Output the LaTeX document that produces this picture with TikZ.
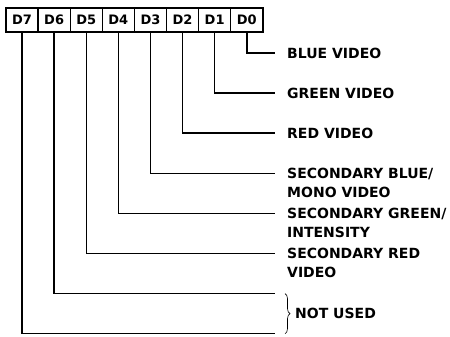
\documentclass[tikz,border=0pt]{standalone}
\usepackage{fontspec}
\setmainfont{DejaVu Sans}
\usetikzlibrary{
    calc,
    decorations.pathreplacing,
}

\begin{document}
\begin{tikzpicture}[
        x=1pt, y=1pt,
        bit/.style={draw, line width=1.4pt, minimum width=32.1pt, minimum height=24pt, inner sep=0pt, font=\fontsize{13}{15}\selectfont\bfseries},
        wire/.style={line width=1.5pt},
        signal/.style={anchor=north west, inner sep=0pt, align=left, font=\fontsize{14}{19}\selectfont\bfseries},
    ]
        \useasboundingbox (0,0) rectangle (450,337);

        % Register bits
        \foreach \k in {7,...,0} {
            \node[bit] (bit\k) at ({6+32.1*(7.5-\k)}, 317) {D\k};
            \coordinate (end\k) at (275, {284-40.1*\k});
        }

        % Used bits
        \foreach \k/\desc in {0/{BLUE VIDEO}, 1/{GREEN VIDEO}, 2/{RED VIDEO}, 3/{SECONDARY BLUE/\\MONO VIDEO}, 4/{SECONDARY GREEN/\\INTENSITY}, 5/{SECONDARY RED\\VIDEO}} {
            \node[signal] (sig\k) at ($(end\k)+(12,5.5)$) {\desc};
            \draw[wire] (bit\k.south) |- (end\k);
        }

        % Unused bits
        \foreach \k in {6,7} {
            \draw[wire] (bit\k.south) |- (end\k);
        }
        \draw[line width=0.6pt, decorate, decoration={brace, amplitude=5pt}]
            ($(end6)+(10,0)$) -- ($(end7)+(10,0)$);
        \node[signal, anchor=west] (unused) at ($(end6)!0.5!(end7)+(20,0)$) {NOT USED};
    \end{tikzpicture}
\end{document}
